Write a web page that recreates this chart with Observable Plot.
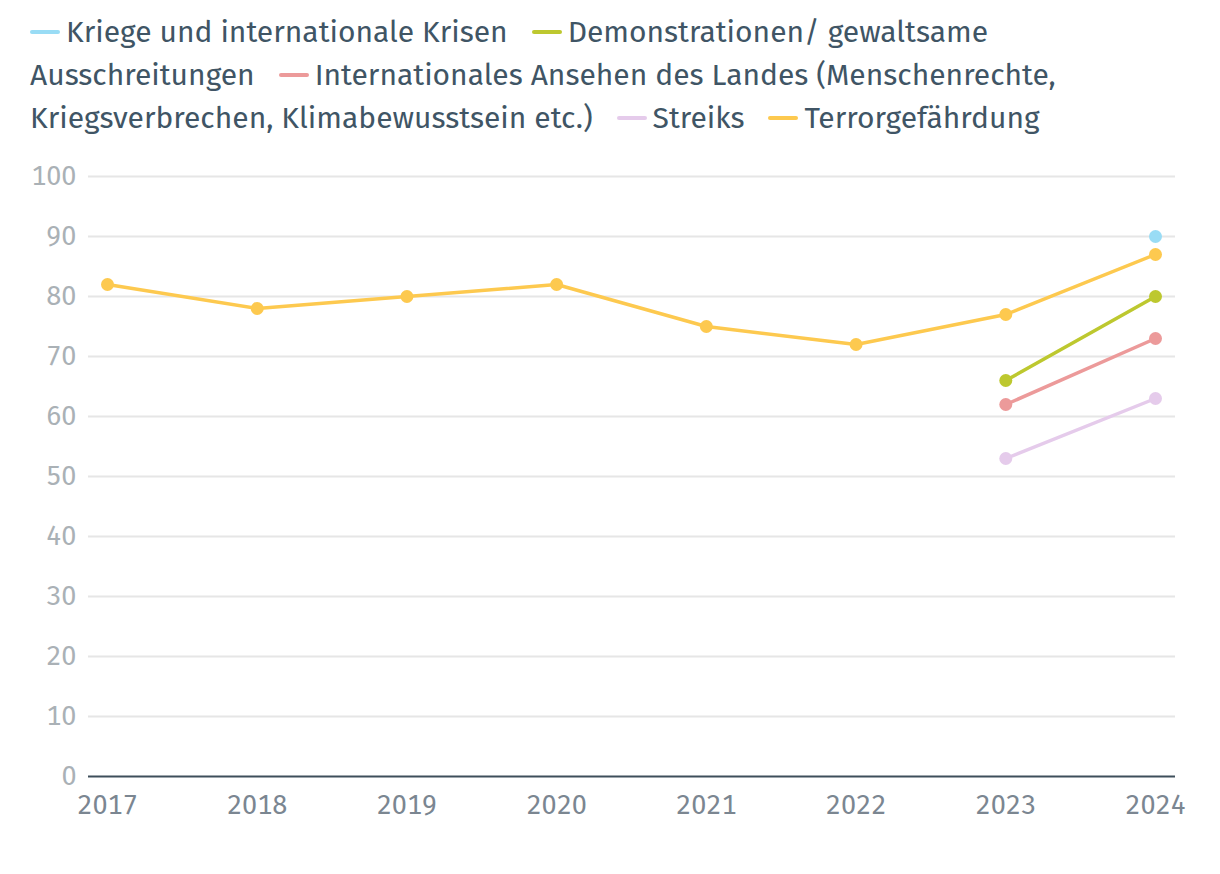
<!DOCTYPE html>
<html><head><meta charset="utf-8">
<script src="https://cdn.jsdelivr.net/npm/d3@7"></script>
<script src="https://cdn.jsdelivr.net/npm/@observablehq/plot@0.6"></script>
<style>
body{margin:0;background:#fff;font-family:"Fira Sans",Roboto,"Open Sans",sans-serif;}
#legend{position:absolute;left:30px;top:11px;width:1100px;font-size:30px;line-height:43px;color:#405565;height:140px;}
.sw{display:inline-block;width:30px;height:4px;border-radius:2px;vertical-align:middle;margin-right:6px;position:relative;top:-2px;}
.gap{display:inline-block;width:16px;}
#chart{position:absolute;left:0;top:150px;}
</style></head><body>
<div id="legend"></div>
<div id="chart"></div>
<script>
const years = [2017, 2018, 2019, 2020, 2021, 2022, 2023, 2024];
const seriesNames = [
  "Kriege und internationale Krisen",
  "Demonstrationen/ gewaltsame Ausschreitungen",
  "Internationales Ansehen des Landes (Menschenrechte, Kriegsverbrechen, Klimabewusstsein etc.)",
  "Streiks",
  "Terrorgefährdung"
];
const colors = ["#99dcf5", "#bdc82f", "#ec9a9a", "#e5cbeb", "#fdc94f"];
const kriege = [null, null, null, null, null, null, null, 90];
const demonstrationen = [null, null, null, null, null, null, 66, 80];
const ansehen = [null, null, null, null, null, null, 62, 73];
const streiks = [null, null, null, null, null, null, 53, 63];
const terror = [82, 78, 80, 82, 75, 72, 77, 87];
const yTicks = [0, 10, 20, 30, 40, 50, 60, 70, 80, 90, 100];

const allValues = [kriege, demonstrationen, ansehen, streiks, terror];
const data = [];
allValues.forEach((vals, i) => vals.forEach((v, j) => {
  if (v != null) data.push({series: seriesNames[i], year: years[j], value: v});
}));

const legend = document.getElementById("legend");
let html = "";
seriesNames.forEach((n, i) => {
  html += `<span class="sw" style="background:${colors[i]}"></span>${n}`;
  if (i < seriesNames.length - 1) html += `<span class="gap"></span> `;
});
legend.innerHTML = html;

const plot = Plot.plot({
  width: 1220,
  height: 724,
  marginTop: 26,
  marginBottom: 98,
  marginLeft: 88,
  marginRight: 45,
  insetLeft: 19,
  insetRight: 20,
  style: {fontFamily: '"Fira Sans",Roboto,"Open Sans",sans-serif', fontSize: "27px", background: "#fff"},
  x: {domain: [2017, 2024], ticks: years, tickFormat: d => String(d), tickSize: 0, tickPadding: 18, label: null},
  y: {domain: [0, 100], ticks: yTicks, tickSize: 0, tickPadding: 12, label: null},
  color: {domain: seriesNames, range: colors},
  marks: [
    Plot.ruleY(yTicks.filter(d => d > 0), {stroke: "#e6e6e6", strokeWidth: 2}),
    Plot.axisY({ticks: yTicks, tickSize: 0, tickPadding: 12, color: "#aab1b6", fontSize: 27, label: null}),
    Plot.axisX({ticks: years, tickFormat: d => String(d), tickSize: 0, tickPadding: 18, color: "#7b8691", fontSize: 27, label: null}),
    Plot.ruleY([0], {stroke: "#3e4f5b", strokeWidth: 2}),
    Plot.line(data, {x: "year", y: "value", z: "series", stroke: "series", strokeWidth: 3.5}),
    Plot.dot(data, {x: "year", y: "value", fill: "series", r: 6.5})
  ]
});
document.getElementById("chart").appendChild(plot);
</script>
</body></html>
